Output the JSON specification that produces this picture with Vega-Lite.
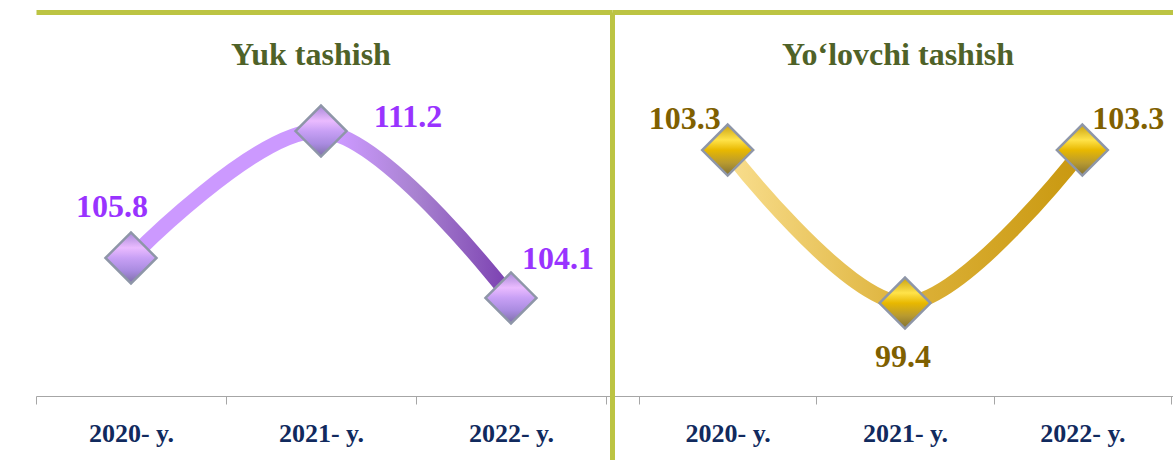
{
  "$schema": "https://vega.github.io/schema/vega-lite/v6.json",
  "background": "white",
  "padding": {"left": 35, "top": 12, "right": 0, "bottom": 0},
  "bounds": "flush",
  "spacing": 0,
  "config": {"view": {"stroke": null}, "font": "Liberation Serif"},
  "hconcat": [
    {
      "width": 576,
      "height": 448,
      "title": {"text": "Yuk tashish", "font": "Liberation Serif", "fontSize": 32, "fontWeight": "bold", "color": "#4F6228", "anchor": "middle", "baseline": "alphabetic", "offset": -85, "dx": -13},
      "data": {"values": [
        {"year": "2020- y.", "value": 105.8},
        {"year": "2021- y.", "value": 111.2},
        {"year": "2022- y.", "value": 104.1}
      ]},
      "encoding": {
        "x": {"field": "year", "type": "nominal", "sort": null, "axis": null,
              "scale": {"paddingInner": 0, "paddingOuter": 0.0158, "align": 0}},
        "y": {"field": "value", "type": "quantitative", "axis": null,
              "scale": {"domain": [97.2, 116.27], "zero": false, "nice": false}}
      },
      "layer": [
        {
          "mark": {"type": "line", "interpolate": "catmull-rom", "strokeWidth": 15, "strokeCap": "butt",
                   "stroke": {"gradient": "linear", "x1": 0, "y1": 0, "x2": 1, "y2": 0,
                              "stops": [{"offset": 0, "color": "#CC99FF"}, {"offset": 0.55, "color": "#CC99FF"}, {"offset": 0.75, "color": "#A882D0"}, {"offset": 1, "color": "#7A3FB0"}]}},
          "encoding": {
            "x": {"field": "year", "type": "nominal", "sort": null,
                  "scale": {"paddingInner": 0, "paddingOuter": 0.0158, "align": 0},
                  "axis": {"orient": "bottom", "title": null, "offset": -64, "tickBand": "extent", "tickSize": 8, "tickColor": "#A6A6A6", "domainColor": "#A6A6A6", "grid": false, "labelAngle": 0, "labelFont": "Liberation Serif", "labelFontSize": 26, "labelFontWeight": "bold", "labelColor": "#112A5E", "labelPadding": 16}}
          }
        },
        {
          "mark": {"type": "point", "shape": "diamond", "size": 2600, "filled": true, "opacity": 1, "stroke": "#8E96A8", "strokeWidth": 2.5,
                   "fill": {"gradient": "linear", "x1": 0, "y1": 0, "x2": 0, "y2": 1,
                            "stops": [{"offset": 0, "color": "#A888D8"}, {"offset": 0.3, "color": "#EABBFF"}, {"offset": 0.5, "color": "#C8A0F5"}, {"offset": 0.75, "color": "#A98BE0"}, {"offset": 1, "color": "#7E6FA8"}]}},
          "encoding": {
            "x": {"field": "year", "type": "nominal", "sort": null,
                  "scale": {"paddingInner": 0, "paddingOuter": 0.0158, "align": 0},
                  "axis": {"orient": "top", "title": null, "labels": false, "ticks": false, "grid": false, "domainColor": "#BCC443", "domainWidth": 5}}
          }
        },
        {
          "transform": [{"filter": "datum.year === '2020- y.'"}],
          "mark": {"type": "text", "font": "Liberation Serif", "fontSize": 32, "fontWeight": "bold", "color": "#9933FF", "align": "center", "baseline": "middle", "dx": -19, "dy": -51},
          "encoding": {"text": {"field": "value", "type": "quantitative", "format": ".1f"}}
        },
        {
          "transform": [{"filter": "datum.year === '2021- y.'"}],
          "mark": {"type": "text", "font": "Liberation Serif", "fontSize": 32, "fontWeight": "bold", "color": "#9933FF", "align": "center", "baseline": "middle", "dx": 87, "dy": -14},
          "encoding": {"text": {"field": "value", "type": "quantitative", "format": ".1f"}}
        },
        {
          "transform": [{"filter": "datum.year === '2022- y.'"}],
          "mark": {"type": "text", "font": "Liberation Serif", "fontSize": 32, "fontWeight": "bold", "color": "#9933FF", "align": "center", "baseline": "middle", "dx": 47, "dy": -39},
          "encoding": {"text": {"field": "value", "type": "quantitative", "format": ".1f"}}
        }
      ],
      "resolve": {"axis": {"x": "independent"}}
    },
    {
      "width": 562,
      "height": 448,
      "title": {"text": "Yo‘lovchi tashish", "font": "Liberation Serif", "fontSize": 32, "fontWeight": "bold", "color": "#4F6228", "anchor": "middle", "baseline": "alphabetic", "offset": -85, "dx": 5},
      "data": {"values": [
        {"year": "2020- y.", "value": 103.3},
        {"year": "2021- y.", "value": 99.4},
        {"year": "2022- y.", "value": 103.3}
      ]},
      "encoding": {
        "x": {"field": "year", "type": "nominal", "sort": null, "axis": null,
              "scale": {"paddingInner": 0, "paddingOuter": 0.0846, "align": 0.9}},
        "y": {"field": "value", "type": "quantitative",
              "axis": {"orient": "left", "title": null, "labels": false, "ticks": false, "grid": false, "domainColor": "#BCC443", "domainWidth": 5},
              "scale": {"domain": [95.4, 106.82], "zero": false, "nice": false}}
      },
      "layer": [
        {
          "mark": {"type": "line", "interpolate": "catmull-rom", "strokeWidth": 15, "strokeCap": "butt",
                   "stroke": {"gradient": "linear", "x1": 0, "y1": 0, "x2": 1, "y2": 0,
                              "stops": [{"offset": 0, "color": "#F9DE8E"}, {"offset": 0.5, "color": "#DDB23A"}, {"offset": 1, "color": "#C9980F"}]}},
          "encoding": {
            "x": {"field": "year", "type": "nominal", "sort": null,
                  "scale": {"paddingInner": 0, "paddingOuter": 0.0846, "align": 0.9},
                  "axis": {"orient": "bottom", "title": null, "offset": -64, "tickBand": "extent", "tickSize": 8, "tickColor": "#A6A6A6", "domainColor": "#A6A6A6", "grid": false, "labelAngle": 0, "labelFont": "Liberation Serif", "labelFontSize": 26, "labelFontWeight": "bold", "labelColor": "#112A5E", "labelPadding": 16}}
          }
        },
        {
          "mark": {"type": "point", "shape": "diamond", "size": 2600, "filled": true, "opacity": 1, "stroke": "#8E96A8", "strokeWidth": 2.5,
                   "fill": {"gradient": "linear", "x1": 0, "y1": 0, "x2": 0, "y2": 1,
                            "stops": [{"offset": 0, "color": "#C9A010"}, {"offset": 0.3, "color": "#FFE34A"}, {"offset": 0.5, "color": "#E8B800"}, {"offset": 0.75, "color": "#B89A30"}, {"offset": 1, "color": "#807034"}]}},
          "encoding": {
            "x": {"field": "year", "type": "nominal", "sort": null,
                  "scale": {"paddingInner": 0, "paddingOuter": 0.0846, "align": 0.9},
                  "axis": {"orient": "top", "title": null, "labels": false, "ticks": false, "grid": false, "domainColor": "#BCC443", "domainWidth": 5}}
          }
        },
        {
          "transform": [{"filter": "datum.year === '2020- y.'"}],
          "mark": {"type": "text", "font": "Liberation Serif", "fontSize": 32, "fontWeight": "bold", "color": "#7F6000", "align": "center", "baseline": "middle", "dx": -43, "dy": -31},
          "encoding": {"text": {"field": "value", "type": "quantitative", "format": ".1f"}}
        },
        {
          "transform": [{"filter": "datum.year === '2021- y.'"}],
          "mark": {"type": "text", "font": "Liberation Serif", "fontSize": 32, "fontWeight": "bold", "color": "#7F6000", "align": "center", "baseline": "middle", "dx": -2, "dy": 54},
          "encoding": {"text": {"field": "value", "type": "quantitative", "format": ".1f"}}
        },
        {
          "transform": [{"filter": "datum.year === '2022- y.'"}],
          "mark": {"type": "text", "font": "Liberation Serif", "fontSize": 32, "fontWeight": "bold", "color": "#7F6000", "align": "center", "baseline": "middle", "dx": 46, "dy": -31},
          "encoding": {"text": {"field": "value", "type": "quantitative", "format": ".1f"}}
        }
      ],
      "resolve": {"axis": {"x": "independent"}}
    }
  ]
}
